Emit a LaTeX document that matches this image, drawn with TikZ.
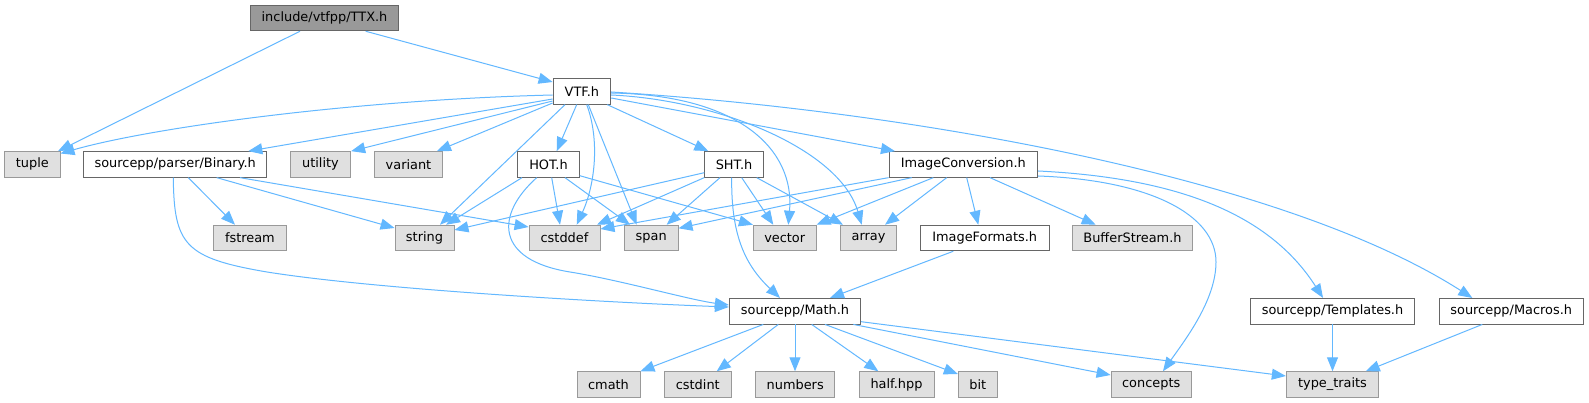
\documentclass[tikz,border=0pt]{standalone}
\usepackage{fontspec}
\setmainfont{DejaVu Sans}
\usetikzlibrary{arrows.meta}
\definecolor{edgec}{HTML}{63B8FF}
\definecolor{bordw}{HTML}{666666}
\definecolor{bordg}{HTML}{999999}
\definecolor{fillg}{HTML}{E0E0E0}
\definecolor{fillr}{HTML}{999999}
\begin{document}
\begin{tikzpicture}[x=1pt,y=-1pt,
  box/.style={draw=bordw, fill=white, line width=0.9pt, minimum height=25.6pt, inner sep=0pt, font=\fontsize{12.9}{14}\selectfont, text=black},
  sys/.style={box, draw=bordg, fill=fillg},
  root/.style={box, draw=bordw, fill=fillr},
  edge/.style={draw=edgec, line width=1pt, -{Triangle[length=14pt,width=11pt]}}]
\useasboundingbox[fill=white] (0,0) rectangle (1589,403);
% row 0
\node[root, minimum width=148.4pt] (ttx) at (324.5,18) {include/vtfpp/TTX.h};
% row 1
\node[box, minimum width=57.7pt] (vtf) at (581.9,91.4) {VTF.h};
% row 2
\node[sys, minimum width=55.3pt] (tuple) at (32.4,164.4) {tuple};
\node[box, minimum width=183pt] (bin) at (175.2,164.4) {sourcepp/parser/Binary.h};
\node[sys, minimum width=60.4pt] (utility) at (320.5,164.4) {utility};
\node[sys, minimum width=68.4pt] (variant) at (408.5,164.4) {variant};
\node[box, minimum width=61.6pt] (hot) at (548.5,164.4) {HOT.h};
\node[box, minimum width=58.6pt] (sht) at (734,164.4) {SHT.h};
\node[box, minimum width=148.7pt] (imgconv) at (963.4,164.4) {ImageConversion.h};
% row 3
\node[sys, minimum width=73.7pt] (fstream) at (249.9,238) {fstream};
\node[sys, minimum width=59pt] (string) at (424.5,238) {string};
\node[sys, minimum width=71pt] (cstddef) at (564.5,238) {cstddef};
\node[sys, minimum width=53.7pt] (span) at (651.2,238) {span};
\node[sys, minimum width=62.7pt] (vector) at (784.7,238) {vector};
\node[sys, minimum width=56.4pt] (array) at (868.5,238) {array};
\node[box, minimum width=128.7pt] (imgfmt) at (984.7,238) {ImageFormats.h};
\node[sys, minimum width=120.4pt] (bufstream) at (1132.5,238) {BufferStream.h};
% row 4
\node[box, minimum width=131.4pt] (math) at (795,311.2) {sourcepp/Math.h};
\node[box, minimum width=164.4pt] (templates) at (1332.5,311.2) {sourcepp/Templates.h};
\node[box, minimum width=144.3pt] (macros) at (1511.2,311.2) {sourcepp/Macros.h};
% row 5
\node[sys, minimum width=63pt] (cmath) at (608.5,384.5) {cmath};
\node[sys, minimum width=67pt] (cstdint) at (697.8,384.5) {cstdint};
\node[sys, minimum width=79pt] (numbers) at (795.2,384.5) {numbers};
\node[sys, minimum width=75pt] (half) at (896.5,384.5) {half.hpp};
\node[sys, minimum width=39pt] (bit) at (977.8,384.5) {bit};
\node[sys, minimum width=80.3pt] (concepts) at (1151.2,384.5) {concepts};
\node[sys, minimum width=92.4pt] (typetraits) at (1332.5,384.5) {type\_traits};

% TTX edges
\draw[edge] (ttx.south -| 300,0) -- (tuple.north -| 58,0);
\draw[edge] (ttx.south -| 365.7,0) -- (vtf.west |- 0,82);
% VTF edges
\draw[edge] (vtf.west |- 0,95) .. controls (350,100) and (150,128) .. (tuple.east |- 0,153.5);
\draw[edge] (vtf.west |- 0,99) -- (bin.north -| 248.3,0);
\draw[edge] (vtf.west |- 0,101) -- (utility.north east);
\draw[edge] (vtf.west |- 0,103) -- (variant.north -| 437,0);
\draw[edge] (vtf.south -| 565,0) -- (string.north -| 440,0);
\draw[edge] (vtf.south -| 576.7,0) -- (hot.north -| 556.7,0);
\draw[edge] (vtf.south -| 586.7,0) .. controls (600,140) and (595,185) .. (cstddef.north -| 576.7,0);
\draw[edge] (vtf.south -| 588.3,0) -- (span.north -| 636.7,0);
\draw[edge] (vtf.south -| 607.3,0) -- (sht.north -| 708.3,0);
\draw[edge] (vtf.east |- 0,93) .. controls (740,95) and (795,150) .. (vector.north -| 788.3,0);
\draw[edge] (vtf.east |- 0,95) .. controls (720,100) and (840,150) .. (array.north -| 861.7,0);
\draw[edge] (vtf.east |- 0,98) -- (imgconv.north -| 895,0);
\draw[edge] (vtf.east |- 0,92) .. controls (900,110) and (1280,175) .. (macros.north -| 1472.3,0);
% HOT edges
\draw[edge] (hot.south -| 522,0) -- (string.north -| 446,0);
\draw[edge] (hot.south -| 536.7,0) .. controls (495,215) and (495,260) .. (570,272) .. controls (620,280) and (690,300) .. (math.west |- 0,305);
\draw[edge] (hot.south -| 551.7,0) -- (cstddef.north -| 560,0);
\draw[edge] (hot.south -| 565,0) -- (span.north -| 630,0);
\draw[edge] (hot.east |- 0,175.7) -- (vector.north west);
% SHT edges
\draw[edge] (sht.west |- 0,172.7) -- (string.east |- 0,230);
\draw[edge] (sht.south west) -- (cstddef.north -| 597,0);
\draw[edge] (sht.south -| 720,0) -- (span.north -| 666.7,0);
\draw[edge] (sht.south -| 731.7,0) .. controls (731,235) and (745,265) .. (math.north -| 780,0);
\draw[edge] (sht.south -| 741.7,0) -- (vector.north -| 773.3,0);
\draw[edge] (sht.south -| 756.7,0) -- (array.north -| 843,0);
% ImageConversion edges
\draw[edge] (imgconv.south west) -- (cstddef.east |- 0,229);
\draw[edge] (imgconv.south -| 911.7,0) -- (span.east |- 0,228.3);
\draw[edge] (imgconv.south -| 933.3,0) -- (vector.north east);
\draw[edge] (imgconv.south -| 946.7,0) -- (array.north -| 885,0);
\draw[edge] (imgconv.south -| 966.7,0) -- (imgfmt.north -| 978.3,0);
\draw[edge] (imgconv.south -| 990,0) -- (bufstream.north -| 1095.7,0);
\draw[edge] (imgconv.east |- 0,176) .. controls (1150,180) and (1216,215) .. (1216,262) .. controls (1216,300) and (1185,340) .. (concepts.north -| 1163,0);
\draw[edge] (imgconv.east |- 0,171) .. controls (1180,178) and (1270,215) .. (templates.north -| 1323,0);
% Binary edges
\draw[edge] (bin.south -| 188.3,0) -- (fstream.north -| 235,0);
\draw[edge] (bin.south -| 216.7,0) -- (string.west |- 0,228);
\draw[edge] (bin.south -| 240,0) -- (cstddef.west |- 0,227);
\draw[edge] (bin.south -| 173.3,0) .. controls (174,245) and (185,258) .. (267,272) .. controls (380,290) and (620,303) .. (math.west |- 0,307);
% Math edges
\draw[edge] (math.south -| 763.3,0) -- (cmath.north east);
\draw[edge] (math.south -| 778.3,0) -- (cstdint.north -| 716.7,0);
\draw[edge] (math.south -| 795,0) -- (numbers.north -| 795,0);
\draw[edge] (math.south -| 811.7,0) -- (half.north -| 878.3,0);
\draw[edge] (math.south -| 825,0) -- (bit.west |- 0,374);
\draw[edge] (math.south -| 853.3,0) -- (concepts.west |- 0,375);
\draw[edge] (math.east |- 0,321.7) -- (typetraits.west |- 0,376);
% others
\draw[edge] (imgfmt.south -| 953.3,0) -- (math.north -| 830,0);
\draw[edge] (templates.south) -- (typetraits.north);
\draw[edge] (macros.south -| 1482.3,0) -- (typetraits.north -| 1365.7,0);
\end{tikzpicture}
\end{document}
